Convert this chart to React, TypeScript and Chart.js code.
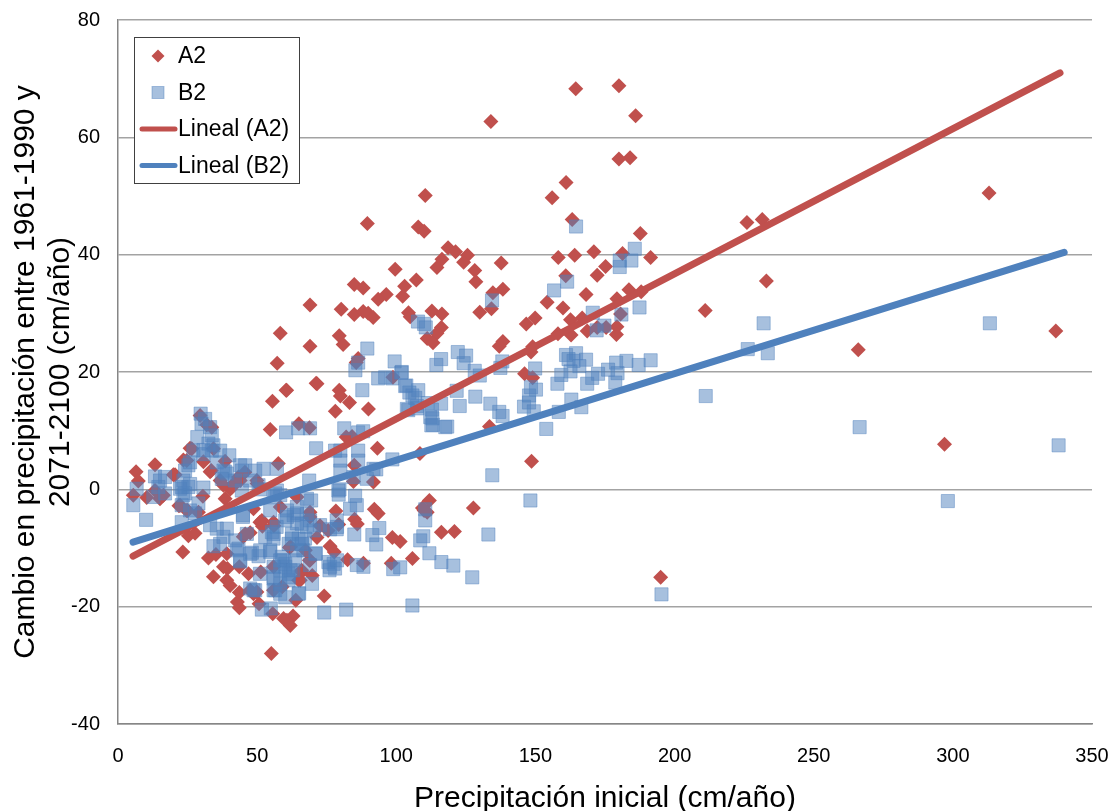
import React, { useEffect, useRef } from "react";
import { Chart, registerables } from "chart.js";

Chart.register(...registerables);

const xTitle = "Precipitación inicial (cm/año)";
const yTitle = ["Cambio en precipitación entre 1961-1990 y", "2071-2100 (cm/año)"];
const seriesNames = ["A2", "B2", "Lineal (A2)", "Lineal (B2)"];

const a2Upper: number[][] = [
[337,27],[313,50.5],[297,7.7],[266,23.8],[233,35.5],[231.5,46],[226,45.5],[211,30.5],[195,-15],
[180,68.8],[164.5,68.3],[186,63.7],[134,62.7],[184,56.5],[180,56.3],[161,52.3],[156,49.7],[163.2,46],[187.7,43.6],
[118.6,41.2],[121.3,40.5],[125.6,39.9],[124.2,38.7],[116.4,39.2],[114.6,37.8],[128.2,37.3],[137.7,38.6],[99.6,37.5],[128.6,35.4],
[158.2,39.5],[164.1,39.9],[171,40.5],[181.3,40.2],[191.4,39.5],[175.2,38],[172.2,36.5],[160.9,36.4],[103,34.6],[107.2,35.7],[102.3,32.9],[96.4,33.2],
[134.7,33.5],[138.3,34.1],[168.2,33.2],[154.2,31.9],[183.6,34],[188,33.7],[179.3,32.5],[159.9,30.9],[104.4,30.1],[105,29.4],[112.8,30.4],[116.4,29.9],
[130,30.2],[134.2,30.8],[149.9,29.2],[146.7,28.2],[180.6,29.9],[162.6,28.9],[166.8,29.2],[116.2,27.6],[114.6,26.6],[138.3,25.2],[137,24.4],[111.1,25.7],[113.2,25],
[158.1,26.5],[162.8,26.3],[168.6,27],[179.3,27.7],[179.1,26.4],[172.2,27.6],[175.4,27.6],[149,24.3],[148.4,23.4],[146.1,19.7],[149,19],[98.8,19.1],[133.5,10.7],
[110.4,50.1],[107.9,44.7],[110,44],[89.6,45.3],[58.3,26.6],[69,31.4],[57.2,21.5],[69,24.4],[71.2,18.1],[60.4,16.9],[80.2,30.7],[79.5,26.2],[80.9,24.7],
[84.9,34.9],[88.1,34.3],[84.9,29.8],[88.1,30.3],[89.9,30],[91.7,29.3],[93.5,32.4],[86.3,22.3],[85.6,21.6],[79.5,16.9],[79.9,15.9],[78.1,13.3],[82,8.9],[84.9,4.1],
[108.5,6.1],[110,-3.6],[111.9,-1.9],[109.4,-3.2],[111.1,-3.9],[101.4,-8.9],[98.6,-8.2],[116.2,-7.3],[120.9,-7.2],[127.7,-3.2],[92.1,-3.4],[93.5,-4.1],[105.8,-11.8],[98.2,-12.6],[148.6,4.8]
];

const a2Cluster: number[][] = [
[55.5,15],[60.6,16.9],[71.5,18],[83.2,14.8],[90,13.7],[54.7,10.2],[65,11.2],[68.8,10.5],[84.1,9],[93.2,7],[91.8,1.25],[84.6,1.35],
[64.3,-1.3],[78.3,-3.7],[85,-5.1],[86,-5.9],[71.5,-8.2],[76.2,-9.7],[77.7,-10.7],[82.5,-12],[88.2,-12.6],[69.8,-14.7],[74.1,-18.2],
[62.9,-21.6],[60.7,-22.3],[61.9,-23.2],[59.5,-22],[55.1,-28],[55.6,-21.2],[50.7,-19.5],[43.6,-20.2],[42.9,-19.2],[43.6,-17.6],[40.3,-16.4],[39.1,-15.5],[34.3,-14.9],[37.9,-13.2],[39.3,-13.5],
[43.6,-13.2],[46.9,-14.4],[51.3,-14.1],[55.9,-13.2],[32.5,-11.7],[23.3,-10.7],[25.3,-7.9],[27.7,-7.5],[35.2,-11.1],[39.1,-11],[47.5,-17.2],[49.9,-17.5],[63.9,-18.9],[55.9,-17.2],[65.5,-15.5],[66,-14.1],
[68.8,-12.1],[62,-9.8],[51,-5.6],[51.9,-6.3],[56,-6.2],[47.5,-7.4],[45,-8.1],[38.5,-1.6],[30.5,-1.2],[28.9,-3.9],[25,-3.6],[22.3,-2.7],[16.3,-1],[15.1,-1.6],[10.3,-1.4],[13.3,4.2],[6.5,3],[7.3,1.4],[5.5,-1],
[13.3,-0.2],[20.5,2.5],[24.7,4.9],[26.5,6.9],[29.5,12.6],[31.9,11],[33.7,10.6],[34.3,6.9],[33.1,3],[38.5,4.8],[43.3,2.1],[41,0.4],[57.6,4.4],[50,1],[48.7,-3.3],[58.3,-3],[69,-4.7],[72.6,-6.2],[75.5,-7],[79.3,-6],
[51.7,-5.3],[55.9,-5.6],[69,-3.9],[66,-13.8],[69,-12.1],[61.6,-9.9],[67.3,-10.4],[59,-16.6],[48.7,-17.8],[45.7,-7.6],[64.9,-15.5],
[23.5,5],[19.9,2.5],[30.7,4.7],[33.5,3.2],[41.5,0.9],[40.3,0],[49.9,1.5],[21.9,-2.8],[24.7,-3.6],[36.7,1.5],[37.9,0.7],[43.9,1.5],[45.6,2.9],[25.9,7]
];

const b2Upper: number[][] = [
[164.6,44.8],[185.7,41],[180.3,39],[184.5,39],[180.3,37.9],[156.7,33.9],[161.4,35.4],[134.4,32.2],[187.4,31],[170.6,30.1],[180.9,29.8],[174.8,27.9],[172,27.1],[107.8,28.6],[110,28.2],[110.6,27.6],
[122.1,23.4],[125.1,22.8],[124.2,21.5],[116.1,22.2],[114.4,21.2],[99.4,21.8],[102,20],[96,19.1],[138.1,21.8],[137.4,20.7],[128.2,20.2],[130,19.4],[149.9,20.6],[161,22.9],[164.6,23.2],[161.9,22.2],[163.7,21.9],
[168.2,22.1],[165.8,21],[179,21.6],[182.7,21.9],[187.1,21.2],[191.4,22],[176.1,20.4],[179.5,19.8],[172.5,19.7],[170.4,19],[168.6,18],[162.6,20.1],[159.3,19.5],[157.9,18],[178.7,18.2],
[103.2,17.6],[104.7,16.5],[106.8,15.6],[103.8,13.7],[107.4,14.2],[112.8,13.6],[116.1,14.6],[121.7,16.8],[128.4,15.8],[122.8,14.2],[133.8,14.6],[137,13.2],[138.2,12.5],[112.2,12.3],[113.2,11],[118.3,10.7],
[145.9,14.1],[147.7,14.8],[147.7,16],[150.2,17],[148.4,17.4],[149.4,13.3],[158.4,13.2],[162.9,15.3],[166.5,14],[153.9,10.3],
[338,7.5],[313.3,28.3],[298.2,-2],[266.5,10.6],[233.5,23.2],[232,28.3],[226.3,23.9],[211.2,15.9],[195.3,-17.9],[134.5,2.4],[133.1,-7.7],[148.2,-1.9],[127.3,-15],[120.5,-13],[116.2,-12.4],[111.9,-10.9],[105.8,-19.8],
[108.6,-8.7],[109.7,-8],[110.4,-5.3],[110.4,-3.4],[101.4,-13.3],[98.9,-13.6],[92.8,-9.4],[93.9,-6.6],[91.4,-7.8],[92.8,3.4],[98.6,5.1],[89.6,24],[93.5,18.9],[98.6,18.9],[101.8,19.9],[103.6,17.7],[105.8,16],[104.3,13.5],[107.9,16.9],[107.6,13.8],
[87.8,16.9],[85.3,20.3],[86.3,21.6],[81.3,10.4],[86.3,9.7],[88.1,9.9],[86.3,6.6],[86.3,4.9],[79.9,4.9],[79.9,3.2],[60.4,9.7],[64.7,10.4],[69,10.4],[71.2,7],[79.9,6.6],[113,12.1],[112.6,10.9],[117.6,10.6],[111.2,14.7]
];

const b2Cluster: number[][] = [
[29.7,12.9],[31.3,12],[30,11.2],[33.1,10.6],[28.5,8.9],[33.7,9.2],[32.5,7.8],[27.1,6.6],[36.7,6.6],[40,5.8],[30.7,6.7],[33.7,6.6],[25.3,4.1],[24.1,3.2],[25.9,4.6],[37.9,3.2],[39.1,2.7],[43.9,4.1],[45.7,4.1],[49.3,3.2],[52.3,3.5],[57.1,3.5],
[42,1.5],[47.5,1.5],[50.5,0.7],[13.3,2.2],[16.9,2.1],[15.1,1.5],[6.7,0.1],[5.5,-2.7],[10.1,-5.2],[14.5,0.4],[12.7,-1.3],[16.9,-0.7],[22.9,0.4],[25.3,0.4],[23.5,-1],[30.7,0.3],[28.9,-2.4],[68.7,1.5],[69.4,-1.9],
[78,6.6],[89.4,1.8],[84.6,2.1],[79.6,0],[79.3,-0.9],[85.2,-1.1],[83.4,-3.3],[85.8,-2.7],[78.6,-5.3],[76.2,-6.8],[78.6,-6.8],[72.6,-6.1],[84.9,-7.7],[91.8,3.5],
[85.8,-12.9],[88.2,-13.2],[82,-20.5],[74.1,-21],[75.6,-12.4],[77.5,-12.7],[76,-13.8],[78,-13.5],[71.1,-10.9],[69,-12.9],[69.7,-16.1],[65.1,-17.7],[60.1,-18.4],[56.5,-17.2],[54.9,-20.3],[51.7,-20.5],[49.3,-17.2],[47.5,-16.9],
[55.9,-15.2],[62,-13.8],[60.1,-12.7],[61.3,-15],[59.5,-12.1],[51,-14.4],[48.1,-10.8],[50.5,-11.4],[54.7,-10.7],[43.9,-12.3],[43.3,-10.1],[34.3,-9.7],[36.7,-9.3],[39.1,-6.7],[35.5,-6.7],[37.9,-8.1],[42.1,-8.7],[46.3,-7.6],[52.9,-8.1],[55.9,-7.6],[61.3,-9.3],[66,-9.3],
[60.7,-4.7],[64.3,-4.1],[69,-5.3],[64.3,-5.8],[67.8,-6.4],[54.7,-3.6],[58.3,-1],[55.9,-1.3],[57.1,-0.2],[33.1,-6.1],[22.9,-5.6],[27.7,-4.1],[44.9,-4.7],[67.2,-8.4],[64.3,-10.4],[62.5,-7.6],[66.6,-10.4],
[63.1,-4.4],[66,-5.9],[55.3,-7.3],[62.5,-8.4],[66.1,-9.3],[54.7,-10.4],[51.1,-10.4],[47.5,-11],[60.1,-13.2],[61.3,-14.4],[58.3,-12.1],[55.9,-14.9],[48.7,-17.2],[55.9,-17.2],[64.9,-17.8],[70.9,-11],[42.7,-10.4],[43.9,-12.1],[78.7,-6.4],[76.2,-13.2],[78.7,-12.1],[79.2,-0.2],
[58.3,-17.8],[63.7,-12.1],[60.7,-3.6],[64.3,-3],[67.9,-4.2],[60.1,-5.3],[57,-6.4],[70.3,-7],[55.9,-8.4],[64.9,-8.4],[58.9,-11.5],[63,-13.8],[58.3,-13.8],[61.3,-15.5],[58.3,-16.1],[55.9,-13.2],[44.9,-4.4],[56.5,-0.7],[67.9,-1.6],
[34.3,7.5],[30.7,6],[23.5,1.5],[22.3,0.1],[24.1,-0.7],[25.9,0.9],[38.5,3],[37.3,1.8],[44.5,3.2],[51.1,0],[44.5,-0.2],[22.9,-2.7],[25.9,-3.6],[35.5,4.6]
];

const trendA2: number[][] = [[5.4,-11.4],[338.5,71]];
const trendB2: number[][] = [[5.4,-9],[340,40.4]];

const toXY = (list: number[][]) => list.map(([x, y]) => ({ x, y }));
const FONT = '"Liberation Sans", Arial, sans-serif';
const RED = "#C0504D";
const BLUE = "#4F81BD";
const SQUARE_FILL = "rgba(79,129,189,0.5)";
const SQUARE_EDGE = "rgba(79,129,189,0.45)";

const boxLegend = {
  id: "boxLegend",
  afterDraw(chart: any) {
    const { ctx } = chart;
    ctx.save();
    ctx.fillStyle = "#fff";
    ctx.fillRect(135, 38, 164, 145);
    ctx.strokeStyle = "#404040";
    ctx.lineWidth = 1;
    ctx.strokeRect(134.5, 37.5, 165, 146);
    ctx.font = `23px ${FONT}`;
    ctx.textBaseline = "middle";
    const rows = [56, 92.5, 129, 165.5];
    seriesNames.forEach((name, i) => {
      const y = rows[i];
      if (i === 0) {
        ctx.fillStyle = RED;
        ctx.beginPath();
        ctx.moveTo(158, y - 6.5);
        ctx.lineTo(164.5, y);
        ctx.lineTo(158, y + 6.5);
        ctx.lineTo(151.5, y);
        ctx.closePath();
        ctx.fill();
      } else if (i === 1) {
        ctx.fillStyle = SQUARE_FILL;
        ctx.strokeStyle = SQUARE_EDGE;
        ctx.lineWidth = 1;
        ctx.fillRect(152, y - 6, 12, 12);
        ctx.strokeRect(152, y - 6, 12, 12);
      } else {
        ctx.strokeStyle = i === 2 ? RED : BLUE;
        ctx.lineWidth = 5;
        ctx.lineCap = "round";
        ctx.beginPath();
        ctx.moveTo(142, y);
        ctx.lineTo(175, y);
        ctx.stroke();
      }
      ctx.fillStyle = "#000";
      ctx.fillText(name, 178, y + 1);
    });
    ctx.restore();
  },
};

export default function App() {
  const ref = useRef<HTMLCanvasElement>(null);
  useEffect(() => {
    const chart = new Chart(ref.current!, {
      type: "scatter",
      plugins: [boxLegend],
      data: {
        datasets: [
          { label: seriesNames[0], order: 4, data: toXY([...a2Upper, ...a2Cluster]), pointStyle: "rectRot", pointRadius: 7.5, backgroundColor: RED, borderColor: RED, borderWidth: 0 },
          { label: seriesNames[1], order: 3, data: toXY([...b2Upper, ...b2Cluster]), pointStyle: "rect", pointRadius: 9.3, backgroundColor: SQUARE_FILL, borderColor: SQUARE_EDGE, borderWidth: 1 },
          { label: seriesNames[2], order: 2, data: toXY(trendA2), showLine: true, pointRadius: 0, borderColor: RED, borderWidth: 7, borderCapStyle: "round" },
          { label: seriesNames[3], order: 1, data: toXY(trendB2), showLine: true, pointRadius: 0, borderColor: BLUE, borderWidth: 7, borderCapStyle: "round" },
        ],
      },
      options: {
        responsive: false,
        animation: false,
        layout: { padding: { top: 0, right: 0, left: 0, bottom: 0 } },
        plugins: { legend: { display: false }, tooltip: { enabled: false } },
        scales: {
          x: {
            type: "linear",
            min: 0,
            max: 350,
            ticks: { stepSize: 50, color: "#000", font: { family: FONT, size: 20 }, maxRotation: 0, padding: 20 },
            grid: { drawOnChartArea: false, drawTicks: false },
            border: { color: "#868686", width: 1.5 },
            title: { display: true, text: xTitle, color: "#000", font: { family: FONT, size: 30, lineHeight: 0.8 }, padding: { top: 0, bottom: 0 } },
            afterFit(s: any) { s.height = 87; s.paddingRight = 20; s.paddingLeft = 0; },
          },
          y: {
            type: "linear",
            min: -40,
            max: 80,
            ticks: { stepSize: 20, color: "#000", font: { family: FONT, size: 20 }, padding: 18 },
            grid: { color: "#A3A3A3", lineWidth: 1.5, drawTicks: false },
            border: { color: "#868686", width: 1.5 },
            title: { display: true, text: yTitle, color: "#000", font: { family: FONT, size: 30, lineHeight: 1.17 }, padding: { top: 8, bottom: 0 } },
            afterFit(s: any) { s.width = 118; s.paddingTop = 20; s.paddingBottom = 0; },
          },
        },
      },
    } as any);
    return () => chart.destroy();
  }, []);
  return (
    <canvas
      ref={ref}
      width={1112}
      height={811}
      style={{ position: "absolute", left: 0, top: 0, display: "block" }}
    />
  );
}
